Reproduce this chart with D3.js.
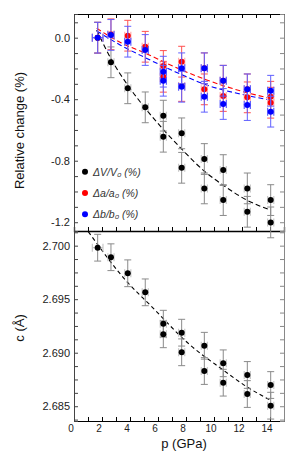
<!DOCTYPE html>
<html>
<head>
<meta charset="utf-8">
<script src="https://cdn.jsdelivr.net/npm/d3@7"></script>
<style>
  body { margin: 0; background: #fff; }
  svg { display: block; font-family: "Liberation Sans", Arial, sans-serif; }
</style>
</head>
<body>
<svg id="plot"></svg>
<script>
// pressures (GPa); first four single runs, then two runs per pressure
const pressure = [1.69, 2.64, 3.84, 5.09, 6.38, 6.38, 7.69, 7.69, 9.31, 9.31, 10.66, 10.66, 12.38, 12.38, 14.05, 14.05];
const pressureErr = [0.38, 0.22, 0.22, 0.22, 0.22, 0.22, 0.22, 0.22, 0.22, 0.22, 0.22, 0.22, 0.22, 0.22, 0.22, 0.22];

// top panel: relative change (%)
const volChange = [0, -0.160, -0.329, -0.453, -0.507, -0.644, -0.622, -0.846, -0.789, -0.980, -0.861, -1.056, -0.980, -1.132, -1.056, -1.201];
const aChange = [0, 0.022, 0.013, -0.059, -0.184, -0.254, -0.156, -0.314, -0.199, -0.336, -0.280, -0.379, -0.336, -0.388, -0.384, -0.423];
const bChange = [0, 0.018, -0.026, -0.080, -0.221, -0.280, -0.199, -0.319, -0.199, -0.384, -0.280, -0.431, -0.336, -0.438, -0.345, -0.481];
const changeErr = 0.1;

// bottom panel: c (Å)
const cValue = [2.69981, 2.69892, 2.69742, 2.69564, 2.69271, 2.69172, 2.69187, 2.69004, 2.69065, 2.68829, 2.68901, 2.68720, 2.68792, 2.68614, 2.68698, 2.68505];
const cErr = 0.00125;

// fitted curves
const fitVolP = [1.62, 2.69, 3.88, 5.19, 7.69, 9.36, 10.64, 12.34, 14.05];
const fitVol = [0.050, -0.145, -0.314, -0.470, -0.724, -0.872, -0.958, -1.056, -1.121];
const fitAbP = [1.62, 3.29, 5.07, 7.21, 9.48, 11.86, 14.0];
const fitA = [0.061, -0.030, -0.100, -0.191, -0.275, -0.345, -0.394];
const fitB = [0.044, -0.047, -0.129, -0.221, -0.308, -0.366, -0.405];
const fitCP = [1.02, 3.88, 5.43, 8.29, 10.66, 12.34, 14.05];
const fitC = [2.70131, 2.69649, 2.69446, 2.69072, 2.68838, 2.68682, 2.68555];

// axis ticks
const xTicks = [0, 2, 4, 6, 8, 10, 12, 14];
const topTicks = [0.0, -0.4, -0.8, -1.2];
const topTickLabels = ["0.0", "-0.4", "-0.8", "-1.2"];
const botTicks = [2.700, 2.695, 2.690, 2.685];
const botTickLabels = ["2.700", "2.695", "2.690", "2.685"];

const legendLabels = ["\u0394V/V\u2080 (%)", "\u0394a/a\u2080 (%)", "\u0394b/b\u2080 (%)"];
const seriesColors = ["#000000", "#ff0000", "#0000ff"];
const barColors = ["#8a8a8a", "#ff5050", "#6060ff"];
const haloColors = ["#c8c8c8", "#ffb0b0", "#b8b8ff"];

const W = 291, H = 460;
const L = 74, R = 284, T = 14, MID = 231, B = 421;

const svg = d3.select("#plot").attr("width", W).attr("height", H);

const x = d3.scaleLinear().domain([0, 15]).range([L, R]);
const yTop = d3.scaleLinear().domain([0.154, -1.257]).range([T, MID]);
const yBot = d3.scaleLinear().domain([2.70137, 2.68362]).range([MID, B]);

// clip paths for each panel
const defs = svg.append("defs");
defs.append("clipPath").attr("id", "clipTop")
  .append("rect").attr("x", L).attr("y", T).attr("width", R - L).attr("height", MID - T);
defs.append("clipPath").attr("id", "clipBot")
  .append("rect").attr("x", L).attr("y", MID).attr("width", R - L).attr("height", B - MID);

// ---- frames and ticks ----
const minorX = d3.range(0, 15.01, 1);

// top edge of top panel, ticks down
svg.append("g").attr("transform", `translate(0,${T})`)
  .call(d3.axisTop(x).tickValues(minorX).tickSize(-4).tickFormat(""))
  .call(g => g.selectAll("line").attr("stroke", "#000"))
  .call(g => g.select(".domain").attr("stroke", "#000"));

// middle line, ticks up into top panel
svg.append("g").attr("transform", `translate(0,${MID})`)
  .call(d3.axisBottom(x).tickValues(minorX).tickSize(-4).tickFormat(""))
  .call(g => g.select(".domain").attr("stroke", "#000").attr("stroke-width", 1.3));

// bottom axis with labels
svg.append("g").attr("transform", `translate(0,${B})`)
  .call(d3.axisBottom(x).tickValues(minorX).tickSize(-4).tickFormat(""))
  .call(g => g.select(".domain").attr("stroke", "#000"));
svg.append("g").selectAll("text").data(xTicks).join("text")
  .attr("x", d => x(d) - 3)
  .attr("y", B + 11)
  .attr("text-anchor", "middle")
  .attr("font-size", 10)
  .attr("fill", "#222")
  .text(d => d);

// left axes
svg.append("g").attr("transform", `translate(${L},0)`)
  .call(d3.axisLeft(yTop).tickValues(d3.range(0.1, -1.25, -0.1)).tickSize(-4).tickFormat(""))
  .call(g => g.select(".domain").attr("stroke", "#444"))
  .call(g => g.selectAll("line").attr("stroke", "#444"));
svg.append("g").attr("transform", `translate(${L},0)`)
  .call(d3.axisLeft(yBot).tickValues(d3.range(2.70125, 2.6836, -0.00125)).tickSize(-4).tickFormat(""))
  .call(g => g.select(".domain").attr("stroke", "#444"))
  .call(g => g.selectAll("line").attr("stroke", "#444"));

svg.append("g").selectAll("text").data(topTicks).join("text")
  .attr("x", L - 4)
  .attr("y", d => yTop(d) + 4)
  .attr("text-anchor", "end")
  .attr("font-size", 11)
  .attr("fill", "#222")
  .text((d, i) => topTickLabels[i]);
svg.append("g").selectAll("text").data(botTicks).join("text")
  .attr("x", L - 4)
  .attr("y", d => yBot(d) + 4)
  .attr("text-anchor", "end")
  .attr("font-size", 11)
  .attr("fill", "#222")
  .text((d, i) => botTickLabels[i]);

// right axes, gray, ticks inward
svg.append("g").attr("transform", `translate(${R},0)`)
  .call(d3.axisRight(yTop).tickValues(d3.range(0.1, -1.25, -0.1)).tickSize(-4).tickFormat(""))
  .call(g => g.select(".domain").attr("stroke", "#888"))
  .call(g => g.selectAll("line").attr("stroke", "#888"));
svg.append("g").attr("transform", `translate(${R},0)`)
  .call(d3.axisRight(yBot).tickValues(d3.range(2.70125, 2.6836, -0.00125)).tickSize(-4).tickFormat(""))
  .call(g => g.select(".domain").attr("stroke", "#888"))
  .call(g => g.selectAll("line").attr("stroke", "#888"));

// axis titles
svg.append("text")
  .attr("transform", `translate(24,${(T + MID) / 2 + 8}) rotate(-90)`)
  .attr("text-anchor", "middle")
  .attr("font-size", 13)
  .attr("fill", "#111")
  .text("Relative change (%)");
svg.append("text")
  .attr("transform", `translate(24,${(MID + B) / 2 + 2}) rotate(-90)`)
  .attr("text-anchor", "middle")
  .attr("font-size", 13)
  .attr("fill", "#111")
  .text("c (\u00c5)");
svg.append("text")
  .attr("x", 184)
  .attr("y", 448)
  .attr("text-anchor", "middle")
  .attr("font-size", 13)
  .attr("fill", "#111")
  .text("p (GPa)");

// ---- fits ----
const topClip = svg.append("g").attr("clip-path", "url(#clipTop)");
const botClip = svg.append("g").attr("clip-path", "url(#clipBot)");

function fitLine(xs, ys, yScale) {
  return d3.line().curve(d3.curveMonotoneX)
    .x((d, i) => x(xs[i])).y(d => yScale(d))(ys);
}

topClip.append("path").attr("d", fitLine(fitVolP, fitVol, yTop))
  .attr("fill", "none").attr("stroke", "#000").attr("stroke-width", 1.1).attr("stroke-dasharray", "5,3");
topClip.append("path").attr("d", fitLine(fitAbP, fitB, yTop))
  .attr("fill", "none").attr("stroke", "#0000ff").attr("stroke-width", 1.1).attr("stroke-dasharray", "5,3");
topClip.append("path").attr("d", fitLine(fitAbP, fitA, yTop))
  .attr("fill", "none").attr("stroke", "#ff0000").attr("stroke-width", 1.1).attr("stroke-dasharray", "5,3");
botClip.append("path").attr("d", fitLine(fitCP, fitC, yBot))
  .attr("fill", "none").attr("stroke", "#000").attr("stroke-width", 1.1).attr("stroke-dasharray", "4,3");

// ---- points with error bars ----
function drawSeries(g, values, err, yScale, k) {
  const pts = values.map((v, i) => ({ p: pressure[i], v: v, xe: pressureErr[i] }));
  const s = g.append("g");
  // horizontal error bars (light box)
  s.selectAll(".hx").data(pts).join("path")
    .attr("d", d => {
      const x0 = x(d.p - d.xe), x1 = x(d.p + d.xe), yy = yScale(d.v);
      return `M${x0},${yy}H${x1}M${x0},${yy - 4}V${yy + 4}M${x1},${yy - 4}V${yy + 4}`;
    })
    .attr("fill", "none").attr("stroke", k === 2 ? barColors[k] : haloColors[k]).attr("stroke-width", 1.2);
  // vertical error bars with caps
  s.selectAll(".vy").data(pts).join("path")
    .attr("d", d => {
      const xx = x(d.p), y0 = yScale(d.v + err), y1 = yScale(d.v - err);
      return `M${xx},${y0}V${y1}M${xx - 3.5},${y0}H${xx + 3.5}M${xx - 3.5},${y1}H${xx + 3.5}`;
    })
    .attr("fill", "none").attr("stroke", barColors[k]).attr("stroke-width", 1);
  s.selectAll("circle").data(pts).join("circle")
    .attr("cx", d => x(d.p)).attr("cy", d => yScale(d.v)).attr("r", 3)
    .attr("fill", seriesColors[k]);
}

drawSeries(svg, volChange, changeErr, yTop, 0);
drawSeries(svg, aChange, changeErr, yTop, 1);
drawSeries(svg, bChange, changeErr, yTop, 2);
drawSeries(svg, cValue, cErr, yBot, 0);

// ---- legend ----
const legend = svg.append("g");
legendLabels.forEach((lab, i) => {
  const ly = 171.7 + i * 21.3;
  legend.append("circle").attr("cx", 85).attr("cy", ly).attr("r", 3).attr("fill", seriesColors[i]);
  legend.append("text").attr("x", 93).attr("y", ly + 4)
    .attr("font-size", 10.5).attr("font-style", "italic").attr("fill", "#333")
    .text(lab);
});
</script>
</body>
</html>
